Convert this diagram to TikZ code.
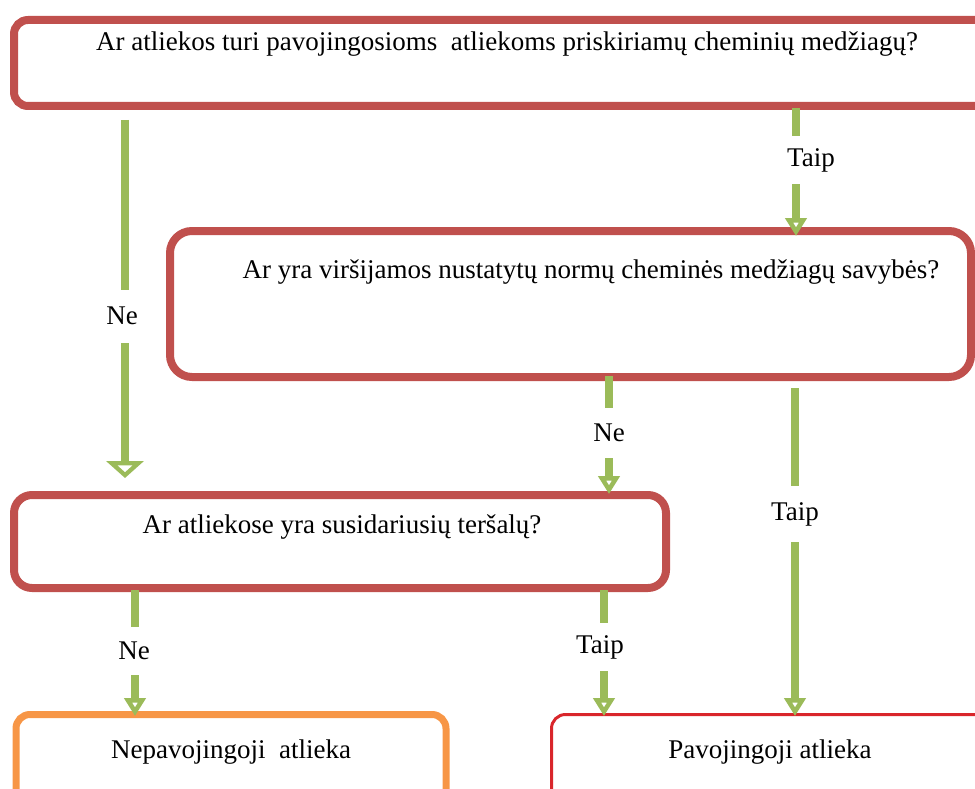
\documentclass[tikz,border=0pt]{standalone}
\usepackage{fontspec}
\setmainfont{Liberation Serif}
\newfontfamily\lserif{Liberation Serif}
\usetikzlibrary{arrows.meta}
\definecolor{boxred}{HTML}{C0504D}
\definecolor{arrgreen}{HTML}{9BBB59}
\definecolor{boxorange}{HTML}{F79646}
\definecolor{hotred}{HTML}{D9262B}
\begin{document}
\begin{tikzpicture}[x=1pt,y=-1pt,
  box/.style={draw=boxred, line width=8pt, rounded corners=14pt, inner sep=0pt},
  txt/.style={font=\lserif\fontsize{27}{32}\selectfont, inner sep=0pt},
  lbl/.style={font=\lserif\fontsize{27}{32}\selectfont, fill=white, inner sep=0pt, minimum height=48pt},
  arr/.style={draw=arrgreen, line width=8pt},
  tipbig/.style={-{Triangle[open,length=17pt,width=37pt,line width=5pt]}},
  tipsmall/.style={-{Triangle[open,length=18pt,width=21pt,line width=5pt]}}]
\useasboundingbox (0,0) rectangle (975,789);
\clip (0,0) rectangle (975,789);
% boxes
\node[box, minimum width=986pt, minimum height=86pt] (b1) at (507,63) {};
\node[box, rounded corners=22pt, minimum width=801pt, minimum height=146pt] (b2) at (570.5,304) {};
\node[box, rounded corners=18pt, minimum width=652pt, minimum height=93pt] (b3) at (340,541.5) {};
\node[box, draw=boxorange, line width=7pt, minimum width=430pt, minimum height=105pt] (b4) at (231,767) {};
\node[box, draw=hotred, line width=3pt, minimum width=449pt, minimum height=105pt] (b5) at (776,767) {};
% texts
\node[txt] (t1) at (507,44) {Ar atliekos turi pavojingosioms\ \ atliekoms priskiriamų cheminių medžiagų?};
\node[txt] (t2) at (591,272) {Ar yra viršijamos nustatytų normų cheminės medžiagų savybės?};
\node[txt] (t3) at (342,527) {Ar atliekose yra susidariusių teršalų?};
\node[txt] (t4) at (231,752) {Nepavojingoji\ \ atlieka};
\node[txt] (t5) at (770,752) {Pavojingoji atlieka};
% connector end points
\coordinate (s1) at (125,120);  \coordinate (e1) at (125,478);
\coordinate (s2) at (796,108);  \coordinate (e2) at (796,236);
\coordinate (s3) at (609,376);  \coordinate (e3) at (609,494);
\coordinate (s4) at (795,388);  \coordinate (e4) at (795,716);
\coordinate (s5) at (135,590);  \coordinate (e5) at (135,716);
\coordinate (s6) at (604,590);  \coordinate (e6) at (604,716);
% connectors
\draw[arr,tipbig] (s1) -- (e1);
\draw[arr,tipsmall] (s2) -- (e2);
\draw[arr,tipsmall] (s3) -- (e3);
\draw[arr,tipsmall] (s4) -- (e4);
\draw[arr,tipsmall] (s5) -- (e5);
\draw[arr,tipsmall] (s6) -- (e6);
% labels
\node[lbl, minimum height=53pt] (l1) at (122,316) {Ne};
\node[lbl] (l2) at (811,160) {Taip};
\node[lbl, minimum height=50pt] (l3) at (609,433) {Ne};
\node[lbl, minimum height=56pt] (l4) at (795,514) {Taip};
\node[lbl] (l5) at (134,651) {Ne};
\node[lbl] (l6) at (600,647) {Taip};
\end{tikzpicture}
\end{document}
